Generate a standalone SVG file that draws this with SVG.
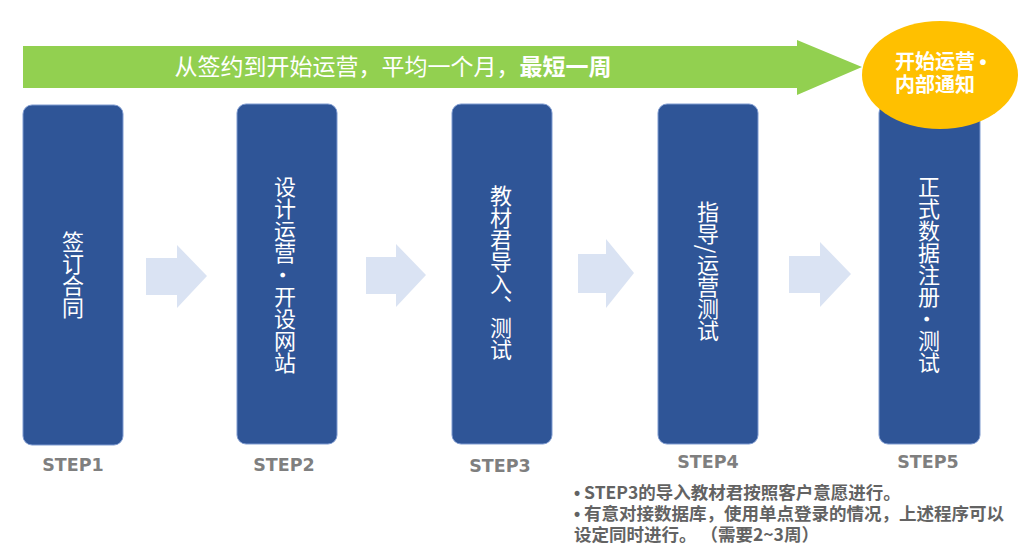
<svg xmlns="http://www.w3.org/2000/svg" width="1031" height="558" viewBox="0 0 1031 558">
<style>
.box{fill:#2F5597;stroke:#7F9BD0;stroke-width:1}
.v{font-family:"Noto Sans CJK SC",sans-serif;font-size:22px;fill:#fff;writing-mode:vertical-rl;text-anchor:middle}
.step{font-family:"DejaVu Sans",sans-serif;font-weight:bold;font-size:17.5px;fill:#7F7F7F;text-anchor:middle}
.conn{fill:#DAE3F3}
.note{font-family:"Noto Sans CJK SC",sans-serif;font-weight:bold;font-size:17.5px;fill:#636363;text-spacing-trim:space-all}
.b{font-family:"Liberation Sans",sans-serif}
</style>
<rect width="1031" height="558" fill="#fff"/>
<g id="banner">
<polygon points="23,46 797,46 797,40 862,67 797,95 797,88 23,88" fill="#92D050"/>
<text x="393" y="75" font-family="'Noto Sans CJK SC',sans-serif" font-size="23" fill="#fff" text-anchor="middle">从签约到开始运营，平均一个月，<tspan font-weight="bold">最短一周</tspan></text>
</g>
<g id="connectors">
<polygon class="conn" points="146,258 177,258 177,245 207,276 177,308 177,295 146,295"/>
<polygon class="conn" points="366,257 396,257 396,244 426,275 396,307 396,294 366,294"/>
<polygon class="conn" points="578,254 606,254 606,239 634,273 606,308 606,293 578,293"/>
<polygon class="conn" points="789,256 820,256 820,242 851,274 820,307 820,293 789,293"/>
</g>
<g id="step1">
<rect class="box" x="23" y="105" width="100" height="340" rx="9"/>
<text class="v" x="73" y="275" font-size="23">签订合同</text>
<text class="step" x="73" y="471">STEP1</text>
</g>
<g id="step2">
<rect class="box" x="237" y="104" width="100" height="340" rx="9"/>
<text class="v" x="285" y="275">设计运营·开设网站</text>
<text class="step" x="284" y="471">STEP2</text>
</g>
<g id="step3">
<rect class="box" x="452" y="104" width="100" height="340" rx="9"/>
<text class="v" x="501" y="273">教材君导入、测试</text>
<text class="step" x="500" y="472">STEP3</text>
</g>
<g id="step4">
<rect class="box" x="658" y="104" width="100" height="340" rx="9"/>
<text class="v" x="708" y="271">指导/运营测试</text>
<text class="step" x="708" y="468">STEP4</text>
</g>
<g id="step5">
<rect class="box" x="879" y="104" width="101" height="340" rx="9"/>
<text class="v" x="929" y="275">正式数据注册·测试</text>
<text class="step" x="928" y="468">STEP5</text>
</g>
<g id="notice">
<ellipse cx="940" cy="75" rx="78" ry="54" fill="#FFC000"/>
<text font-family="'Noto Sans CJK SC',sans-serif" font-weight="bold" font-size="20" fill="#fff"><tspan x="895" y="69">开始运营 <tspan class="b">•</tspan></tspan><tspan x="895" y="92">内部通知</tspan></text>
</g>
<g id="notes">
<text class="note" x="574" y="499"><tspan class="b">•</tspan> STEP3的导入教材君按照客户意愿进行。</text>
<text class="note" x="574" y="520"><tspan class="b">•</tspan> 有意对接数据库，使用单点登录的情况，上述程序可以</text>
<text class="note" x="574" y="541">设定同时进行。 （需要2~3周）</text>
</g>
</svg>
